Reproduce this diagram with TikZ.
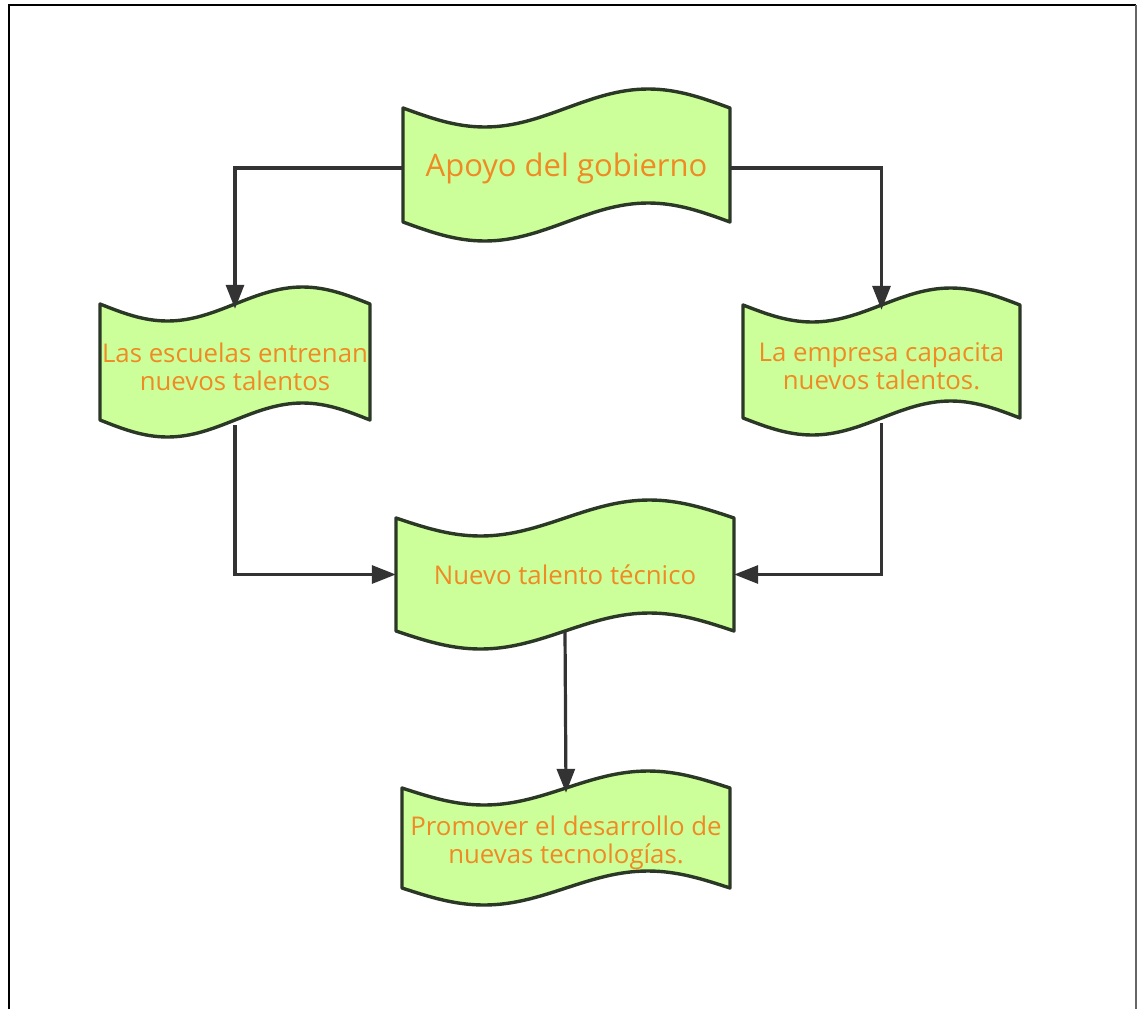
\documentclass[tikz,border=0pt]{standalone}
\usepackage{fontspec}
\setmainfont{Open Sans}
\usetikzlibrary{arrows.meta}

\definecolor{tapefill}{HTML}{CCFF99}
\definecolor{tapeedge}{HTML}{2B3826}
\definecolor{tapeink}{HTML}{F08A24}
\definecolor{linkgray}{HTML}{333333}

\tikzset{
  tapeline/.style={draw=tapeedge, fill=tapefill, line width=3.4pt, line join=round},
  tapetext/.style={inner sep=0pt, align=center, text=tapeink, font=\fontsize{25.8}{28}\selectfont},
  bigtext/.style={font=\fontsize{31}{34}\selectfont},
  link/.style={draw=linkgray, line width=3.2pt, -{Triangle[length=24pt,width=18pt]}},
}

% wavy "tape" box: name, left x, right x, top y, bottom y, wave amplitude, options, text
\newcommand{\tapebox}[8]{%
  \pgfmathsetmacro{\tpQ}{(#3-#2)/4}%
  \pgfmathsetmacro{\tpW}{#3-#2}%
  \pgfmathsetmacro{\tpH}{#5-#4}%
  \draw[tapeline] (#2,#4) sin ++(\tpQ,#6) cos ++(\tpQ,-#6) sin ++(\tpQ,-#6) cos ++(\tpQ,#6)
    -- (#3,#5) sin ++(-\tpQ,-#6) cos ++(-\tpQ,#6) sin ++(-\tpQ,#6) cos ++(-\tpQ,-#6) -- cycle;
  \node[tapetext, minimum width=\tpW pt, minimum height=\tpH pt, #7] (#1)
    at ({(#2+#3)/2},{(#4+#5)/2}) {#8};
}

\begin{document}
\begin{tikzpicture}[x=1pt, y=-1pt]
  \useasboundingbox (0,0) rectangle (1137,1009);
  % page frame
  \draw[black, line width=2.4pt] (9,1009) -- (9,5) -- (1136,5);
  \draw[gray!80!black, line width=1.8pt] (1136,5) -- (1136,1009);

  \tapebox{gov}{403}{730}{108}{222}{19}{bigtext, yshift=-3pt}{Apoyo del gobierno}
  \tapebox{school}{100}{370}{304}{420}{17}{yshift=-5pt}{Las escuelas entrenan\\nuevos talentos}
  \tapebox{firm}{743}{1020}{305}{418}{17}{yshift=-5pt}{La empresa capacita\\nuevos talentos.}
  \tapebox{talent}{396}{734}{518}{631}{18}{}{Nuevo talento técnico}
  \tapebox{tech}{402}{730}{788}{888}{17}{yshift=-5pt}{Promover el desarrollo de\\nuevas tecnologías.}

  \draw[link] (gov.west) -| (school.north);
  \draw[link] (gov.east) -| (firm.north);
  \draw[link] (school.south) |- (talent.west);
  \draw[link] (firm.south) |- (talent.east);
  \draw[link] (talent.south) -- (tech.north);
\end{tikzpicture}
\end{document}
